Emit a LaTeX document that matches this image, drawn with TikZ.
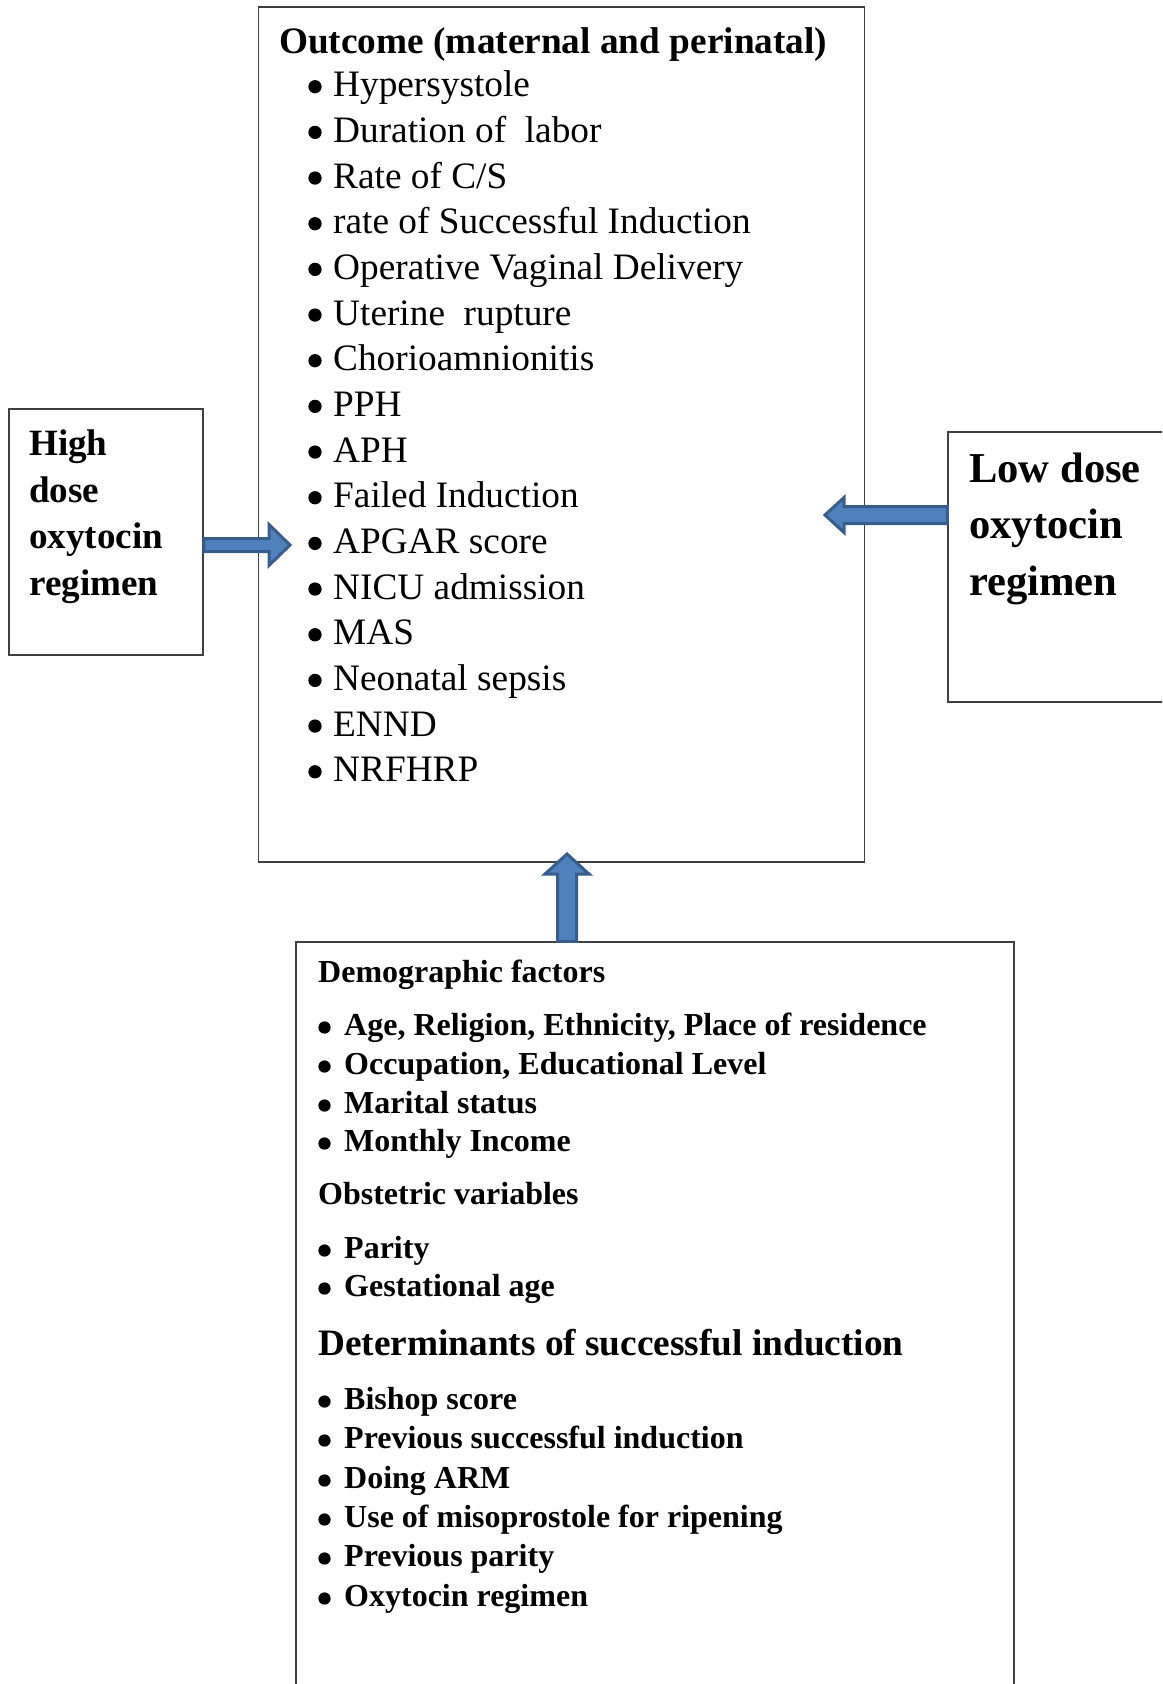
\documentclass[tikz,border=0pt]{standalone}
\usepackage{fontspec}
\setmainfont{Liberation Serif}
\usetikzlibrary{calc}

\definecolor{arrowfill}{RGB}{79,129,189}
\definecolor{arrowline}{RGB}{56,93,138}

\tikzset{
  frame/.style={draw=black!75, line width=1.5pt, inner sep=0pt},
  fatarrow/.style={fill=arrowfill, draw=arrowline, line width=3pt, line join=miter},
  txt/.style={anchor=base west, inner sep=0pt},
  dot/.style={circle, fill=black, inner sep=0pt, minimum size=#1},
  outfont/.style={font=\fontsize{37.3}{40}\selectfont},
  outhead/.style={font=\fontsize{37.3}{40}\selectfont\bfseries},
  sidefont/.style={font=\fontsize{37.1}{40}\selectfont\bfseries},
  lowfont/.style={font=\fontsize{42.6}{46}\selectfont\bfseries},
  facfont/.style={font=\fontsize{32}{36}\selectfont\bfseries},
}

% block arrow: tail, tip, half shaft, half head, head length
\newcommand\blockarrow[5]{%
  \draw[fatarrow] let \p1=(#1), \p2=(#2),
      \n1={atan2(\y2-\y1,\x2-\x1)}, \n2={veclen(\x2-\x1,\y2-\y1)} in
    [shift={(\p1)}, rotate=\n1]
    (0,#3) -- (\n2-#5,#3) -- (\n2-#5,#4) -- (\n2,0)
    -- (\n2-#5,-#4) -- (\n2-#5,-#3) -- (0,-#3) -- cycle;
}

\begin{document}
\begin{tikzpicture}[x=1pt, y=-1pt]
\clip (0,0) rectangle (1162,1684);

% boxes
\node[frame, minimum width=606pt, minimum height=855pt] (outcome) at (561.5,434.5) {};
\node[frame, minimum width=194pt, minimum height=246pt] (high) at (106,532) {};
\node[frame, minimum width=250pt, minimum height=270pt] (low) at (1073,567) {};
\node[frame, minimum width=718pt, minimum height=780pt] (factors) at (655,1332) {};

% outcome list
\node[txt, outhead] (outtitle) at (279,53.7) {Outcome (maternal and perinatal)};
\foreach \t [count=\i from 0] in {Hypersystole, Duration of\ \ labor, Rate of C/S,
    rate of Successful Induction, Operative Vaginal Delivery, Uterine\ \ rupture,
    Chorioamnionitis, PPH, APH, Failed Induction, APGAR score, NICU admission,
    MAS, Neonatal sepsis, ENND, NRFHRP}{
  \node[dot=13.3pt] (outdot\i) at (315,{86.7+45.67*\i}) {};
  \node[txt, outfont] (out\i) at (333,{96.7+45.67*\i}) {\t};
}

% side boxes
\foreach \t/\y [count=\i] in {High/455, dose/502, oxytocin/548, regimen/595}
  \node[txt, sidefont] (high\i) at (29,\y) {\t};
\foreach \t/\y [count=\i] in {Low dose/482, oxytocin/538, regimen/595}
  \node[txt, lowfont] (low\i) at (969,\y) {\t};

% factors
\node[txt, facfont] (demohead) at (318,982) {Demographic factors};
\node[txt, facfont] (obsthead) at (318,1204) {Obstetric variables};
\node[txt, outhead] (dethead) at (318,1355) {Determinants of successful induction};
\foreach \y/\t [count=\i] in {1035/{Age, Religion, Ethnicity, Place of residence},
    1074/{Occupation, Educational Level}, 1113/Marital status, 1151/Monthly Income,
    1258/Parity, 1296/Gestational age, 1409/Bishop score,
    1448/Previous successful induction, 1488/Doing ARM,
    1527/Use of misoprostole for ripening, 1566/Previous parity,
    1606/Oxytocin regimen}{
  \node[dot=12.3pt] (facdot\i) at (324.5,\y-7.5) {};
  \node[txt, facfont] (fac\i) at (344,\y) {\t};
}

% arrows
\coordinate (hightip) at (290,545);
\coordinate (lowtip) at (825,515);
\coordinate (uptip) at (567,854);
\blockarrow{high.east |- hightip}{hightip}{6.5}{20.5}{21}
\blockarrow{low.west |- lowtip}{lowtip}{8.5}{17.5}{19}
\blockarrow{factors.north -| uptip}{uptip}{9.5}{22}{20}
\end{tikzpicture}
\end{document}
